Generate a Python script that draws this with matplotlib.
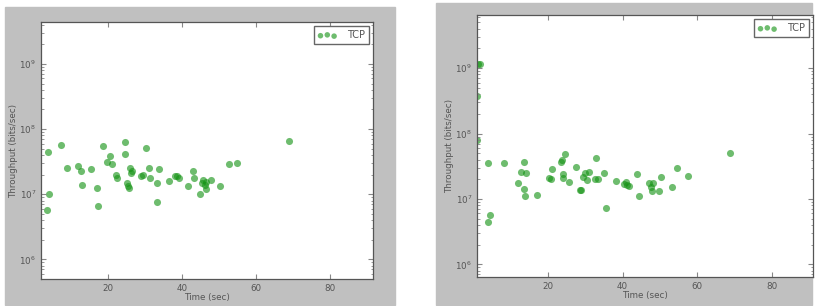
import matplotlib
matplotlib.use("Agg")
import matplotlib.pyplot as plt
from matplotlib.patches import Rectangle

# --- data ---
left_time = [4.0, 7.4, 4.1, 3.7, 9.1, 12.0, 12.8, 13.1, 15.6, 17.1, 17.3, 18.8,
             19.9, 20.5, 21.2, 22.2, 22.6, 24.7, 24.7, 25.1, 25.5, 25.8, 26.1,
             26.5, 26.2, 29.1, 29.6, 30.4, 31.1, 31.5, 33.2, 33.4, 33.9, 36.6,
             38.1, 38.8, 39.3, 41.7, 43.1, 43.4, 45.0, 45.4, 45.8, 46.3, 46.4,
             46.5, 47.8, 50.2, 52.8, 54.8, 69.0]
left_tput = [4.5e7, 5.7e7, 1.0e7, 5.7e6, 2.5e7, 2.7e7, 2.3e7, 1.4e7, 2.4e7,
             1.26e7, 6.7e6, 5.5e7, 3.1e7, 3.8e7, 2.9e7, 2.0e7, 1.77e7, 6.3e7,
             4.2e7, 1.47e7, 1.32e7, 1.23e7, 2.5e7, 2.3e7, 2.1e7, 1.9e7, 2.0e7,
             5.2e7, 2.5e7, 1.77e7, 7.7e6, 1.5e7, 2.4e7, 1.6e7, 1.9e7, 1.88e7,
             1.77e7, 1.32e7, 2.3e7, 1.77e7, 1.02e7, 1.5e7, 1.68e7, 1.39e7,
             1.2e7, 1.55e7, 1.68e7, 1.32e7, 2.9e7, 3.0e7, 6.5e7]

right_time = [1.4, 1.8, 1.1, 1.1, 3.9, 3.9, 4.4, 8.3, 12.1, 12.9, 13.6, 13.6,
              14.1, 13.9, 17.2, 20.2, 20.7, 21.0, 23.5, 23.7, 24.0, 24.0, 24.7,
              25.6, 27.6, 28.5, 28.8, 29.5, 29.8, 30.4, 30.9, 32.7, 32.9, 33.4,
              34.9, 35.5, 38.2, 40.5, 40.9, 41.2, 41.6, 43.9, 44.4, 47.1, 47.7,
              47.9, 48.2, 49.7, 50.2, 53.3, 54.6, 57.4, 68.8]
right_tput = [1.16e9, 1.16e9, 3.8e8, 7.9e7, 3.5e7, 4.4e6, 5.6e6, 3.6e7, 1.77e7,
              2.6e7, 3.7e7, 1.44e7, 2.5e7, 1.09e7, 1.15e7, 2.07e7, 2.05e7,
              2.9e7, 3.7e7, 4.0e7, 2.4e7, 2.1e7, 4.8e7, 1.8e7, 3.1e7, 1.36e7,
              1.36e7, 2.2e7, 2.5e7, 1.95e7, 2.6e7, 2.0e7, 4.2e7, 2.0e7, 2.5e7,
              7.3e6, 1.86e7, 1.67e7, 1.84e7, 1.62e7, 1.58e7, 2.4e7, 1.12e7,
              1.77e7, 1.54e7, 1.34e7, 1.77e7, 1.33e7, 2.2e7, 1.54e7, 3.0e7,
              2.28e7, 5.1e7]

FS = 6.3
GRAY = "#c0c0c0"
TXT = "#555555"

fig = plt.figure(figsize=(8.24, 3.06), dpi=100, facecolor="white")

# grey screenshot backgrounds behind each panel
fig.patches.append(Rectangle((5 / 824, 1 / 306), 390 / 824, 298 / 306,
                             transform=fig.transFigure, color=GRAY, zorder=-10))
fig.patches.append(Rectangle((436 / 824, 1 / 306), 376 / 824, 302 / 306,
                             transform=fig.transFigure, color=GRAY, zorder=-10))


def panel(rect, t, tp, xlim, ylim):
    ax = fig.add_axes(rect)
    ax.scatter(t, tp, s=26, color="#169416", alpha=0.62, linewidths=0,
               label="TCP")
    ax.set_yscale("log")
    ax.set_xlim(*xlim)
    ax.set_ylim(*ylim)
    ax.set_xticks([20, 40, 60, 80])
    ax.set_yticks([1e6, 1e7, 1e8, 1e9])
    ax.tick_params(which="both", direction="in", top=True, right=True,
                   labelsize=FS, labelcolor=TXT, color="#888888")
    ax.tick_params(which="major", length=3.5)
    ax.tick_params(which="minor", length=1.8)
    for sp in ax.spines.values():
        sp.set_color("#555555")
        sp.set_linewidth(0.9)
    ax.set_xlabel("Time (sec)", fontsize=FS, color=TXT, labelpad=0)
    ax.set_ylabel("Throughput (bits/sec)", fontsize=FS, color=TXT,
                  labelpad=1)
    leg = ax.legend(loc="upper right", scatterpoints=3, fontsize=7,
                    markerscale=0.78, fancybox=False, framealpha=1,
                    handlelength=2.0, handletextpad=1.0,
                    borderpad=0.4, borderaxespad=0.45)
    leg.get_frame().set_edgecolor("#666666")
    leg.get_frame().set_linewidth(1.0)
    for txt in leg.get_texts():
        txt.set_color(TXT)
    return ax


panel([41 / 824, 27 / 306, 332 / 824, 257 / 306],
      left_time, left_tput, (2, 91.6), (5e5, 4.4e9))
panel([477 / 824, 29 / 306, 336 / 824, 262 / 306],
      right_time, right_tput, (1, 91), (6.4e5, 6.5e9))

fig.savefig("out.png", dpi=100, facecolor="white")
